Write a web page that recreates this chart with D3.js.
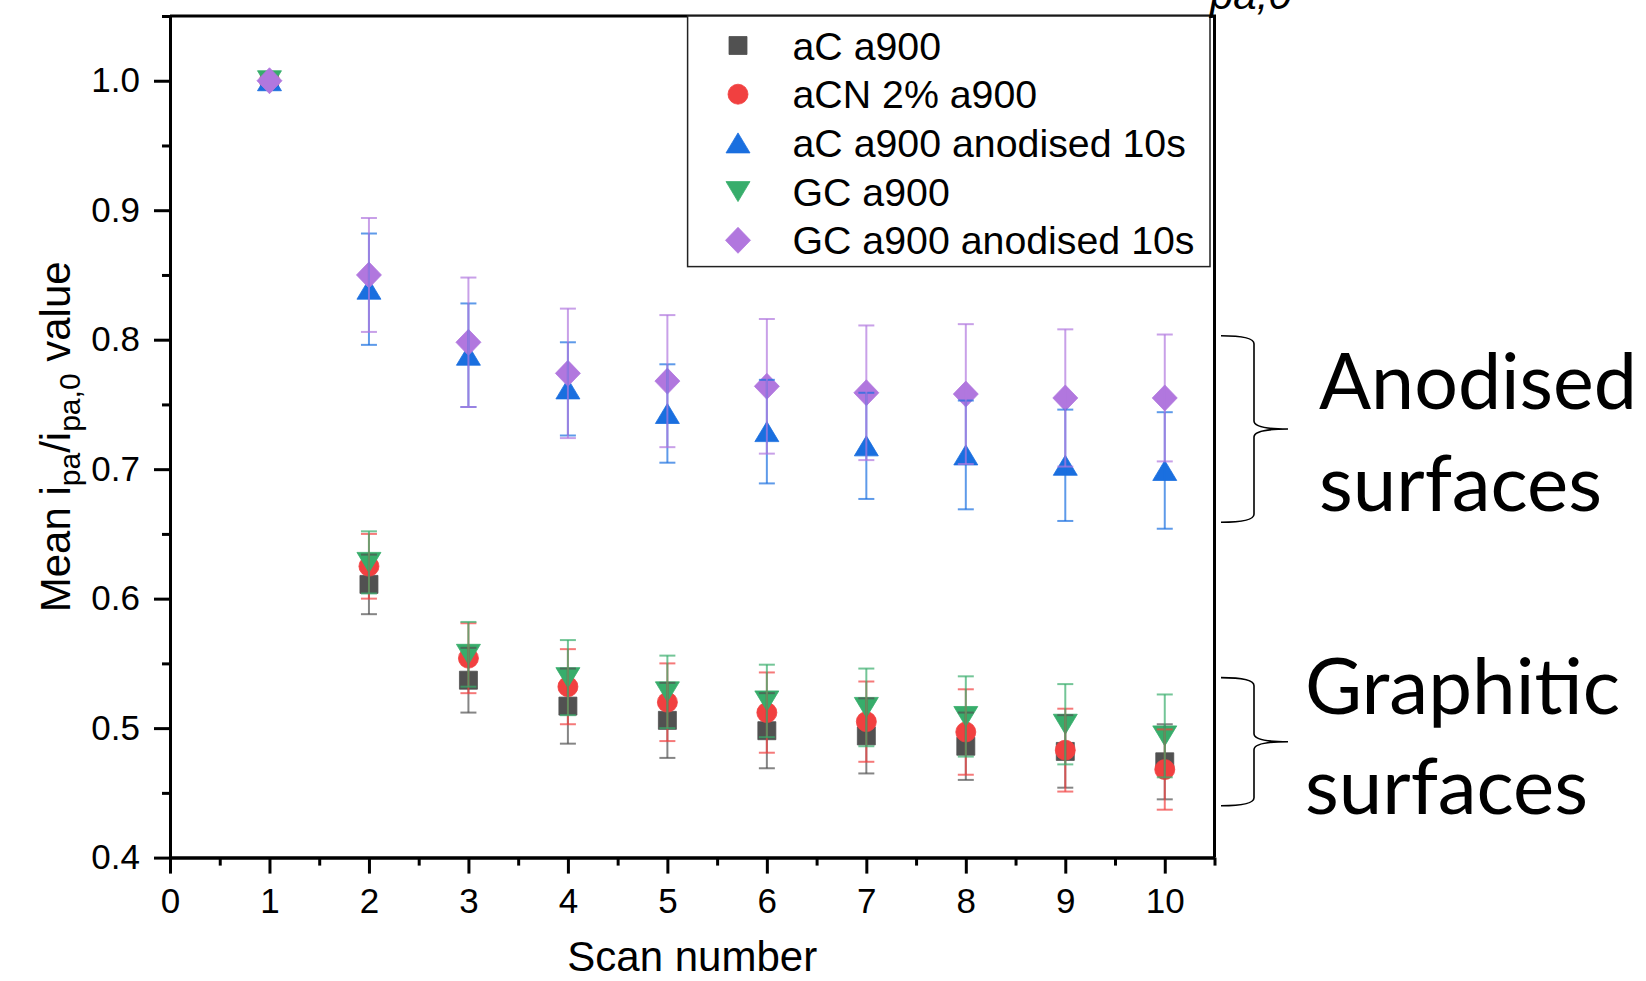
<!DOCTYPE html>
<html>
<head>
    <title>Mean ipa/ipa,0 value vs scan number</title>
    <script src="https://d3js.org/d3.v7.min.js"></script>
    <style>
        body { margin: 0; background: #fff; }
        svg { display: block; }
    </style>
</head>
<body>
    <div id="chart"></div>

    <script>
        // Data
        const scans = [1, 2, 3, 4, 5, 6, 7, 8, 9, 10];
        const seriesNames = ["aC a900", "aCN 2% a900", "aC a900 anodised 10s", "GC a900", "GC a900 anodised 10s"];

        const aCMean = [1.000, 0.611, 0.537, 0.517, 0.506, 0.498, 0.494, 0.486, 0.482, 0.474];
        const aCErr = [0, 0.023, 0.025, 0.029, 0.029, 0.029, 0.029, 0.026, 0.028, 0.029];

        const aCNMean = [1.000, 0.625, 0.554, 0.532, 0.520, 0.512, 0.505, 0.497, 0.483, 0.468];
        const aCNErr = [0, 0.025, 0.027, 0.029, 0.030, 0.031, 0.031, 0.033, 0.032, 0.031];

        const aCAnodMean = [1.000, 0.839, 0.788, 0.762, 0.743, 0.729, 0.718, 0.711, 0.703, 0.699];
        const aCAnodErr = [0, 0.043, 0.040, 0.036, 0.038, 0.040, 0.041, 0.042, 0.043, 0.045];

        const gcMean = [1.000, 0.628, 0.557, 0.539, 0.528, 0.521, 0.516, 0.509, 0.503, 0.494];
        const gcErr = [0, 0.024, 0.025, 0.029, 0.028, 0.028, 0.030, 0.031, 0.031, 0.032];

        const gcAnodMean = [1.000, 0.850, 0.798, 0.774, 0.768, 0.764, 0.759, 0.758, 0.755, 0.755];
        const gcAnodErr = [0, 0.044, 0.050, 0.050, 0.051, 0.052, 0.052, 0.054, 0.053, 0.049];

        const xTicks = [0, 1, 2, 3, 4, 5, 6, 7, 8, 9, 10];
        const yTicks = [0.4, 0.5, 0.6, 0.7, 0.8, 0.9, 1.0];

        // Brace annotations, ranges in data units
        const braceLabels = [["Anodised", "surfaces"], ["Graphitic", "surfaces"]];
        const braceRanges = [[0.659, 0.803], [0.440, 0.539]];

        // Styles
        const colors = ["#515151", "#F14040", "#1A6FDF", "#37AD6B", "#B177DE"];
        const shapes = ["square", "circle", "up", "down", "diamond"];

        const series = seriesNames.map((name, i) => ({
            name: name,
            color: colors[i],
            shape: shapes[i],
            mean: [aCMean, aCNMean, aCAnodMean, gcMean, gcAnodMean][i],
            err: [aCErr, aCNErr, aCAnodErr, gcErr, gcAnodErr][i]
        }));

        const width = 1646;
        const height = 981;
        const margin = { left: 170, right: 431.5, top: 16, bottom: 123.4 };

        const xScale = d3.scaleLinear()
            .domain([0, 10.5])
            .range([margin.left, width - margin.right]);

        const yScale = d3.scaleLinear()
            .domain([0.4, 1.05])
            .range([height - margin.bottom, margin.top]);

        const svg = d3.select("#chart")
            .append("svg")
            .attr("width", width)
            .attr("height", height);

        svg.append("rect")
            .attr("width", width)
            .attr("height", height)
            .attr("fill", "#fff");

        // Marker shapes
        function marker(shape) {
            const p = d3.path();
            if (shape === "square") {
                p.rect(-9, -9, 18, 18);
            } else if (shape === "circle") {
                p.arc(0, 0, 10, 0, 2 * Math.PI);
            } else if (shape === "up") {
                p.moveTo(0, -10); p.lineTo(12, 10); p.lineTo(-12, 10); p.closePath();
            } else if (shape === "down") {
                p.moveTo(0, 10); p.lineTo(12, -10); p.lineTo(-12, -10); p.closePath();
            } else {
                p.moveTo(0, -13); p.lineTo(12.5, 0); p.lineTo(0, 13); p.lineTo(-12.5, 0); p.closePath();
            }
            return p.toString();
        }

        // Markers, one series after the other
        series.forEach(s => {
            svg.append("g")
                .selectAll("path")
                .data(scans)
                .join("path")
                .attr("d", marker(s.shape))
                .attr("transform", (d, i) => `translate(${xScale(d)},${yScale(s.mean[i])})`)
                .attr("fill", s.color)
                .attr("stroke", s.color)
                .attr("stroke-width", 0.8);
        });

        // Error bars on top
        series.forEach(s => {
            const g = svg.append("g")
                .attr("stroke", s.color)
                .attr("stroke-opacity", 0.7)
                .attr("stroke-width", 2);
            const bars = scans.map((d, i) => ({ x: d, m: s.mean[i], e: s.err[i] })).filter(b => b.e > 0);

            g.selectAll("line.v")
                .data(bars)
                .join("line")
                .attr("class", "v")
                .attr("x1", b => xScale(b.x))
                .attr("x2", b => xScale(b.x))
                .attr("y1", b => yScale(b.m + b.e))
                .attr("y2", b => yScale(b.m - b.e));

            [1, -1].forEach(sign => {
                g.selectAll("line.c" + sign)
                    .data(bars)
                    .join("line")
                    .attr("x1", b => xScale(b.x) - 8)
                    .attr("x2", b => xScale(b.x) + 8)
                    .attr("y1", b => yScale(b.m + sign * b.e))
                    .attr("y2", b => yScale(b.m + sign * b.e));
            });
        });

        // Axes
        const font = "'Liberation Sans', Arial, sans-serif";
        const xAxis = d3.axisBottom(xScale)
            .tickValues(xTicks)
            .tickFormat(d3.format("d"))
            .tickSize(16)
            .tickSizeOuter(0)
            .tickPadding(14.5);

        const xMinor = d3.axisBottom(xScale)
            .tickValues(d3.range(0.5, 11, 1))
            .tickFormat("")
            .tickSize(8)
            .tickSizeOuter(0);

        const yAxis = d3.axisLeft(yScale)
            .tickValues(yTicks)
            .tickFormat(d3.format(".1f"))
            .tickSize(16)
            .tickSizeOuter(0)
            .tickPadding(14);

        const yMinor = d3.axisLeft(yScale)
            .tickValues(d3.range(0.45, 1.06, 0.1))
            .tickFormat("")
            .tickSize(8)
            .tickSizeOuter(0);

        const bottomY = yScale(0.4);
        const leftX = xScale(0);

        [xAxis, xMinor].forEach(a => {
            svg.append("g")
                .attr("transform", `translate(0,${bottomY})`)
                .call(a);
        });
        [yAxis, yMinor].forEach(a => {
            svg.append("g")
                .attr("transform", `translate(${leftX},0)`)
                .call(a);
        });

        svg.selectAll(".domain, .tick line")
            .attr("stroke", "#000")
            .attr("stroke-width", 3);
        svg.selectAll(".tick text")
            .attr("font-family", font)
            .attr("font-size", 35)
            .attr("fill", "#000");

        // Top and right frame
        svg.append("path")
            .attr("d", `M${leftX},${yScale(1.05)}H${xScale(10.5)}V${bottomY}`)
            .attr("fill", "none")
            .attr("stroke", "#000")
            .attr("stroke-width", 3);

        // Axis titles
        svg.append("text")
            .attr("x", (xScale(0) + xScale(10.5)) / 2)
            .attr("y", 971)
            .attr("text-anchor", "middle")
            .attr("font-family", font)
            .attr("font-size", 42)
            .text("Scan number");

        const yTitle = svg.append("text")
            .attr("transform", `translate(70,${(yScale(0.4) + yScale(1.05)) / 2}) rotate(-90)`)
            .attr("text-anchor", "middle")
            .attr("font-family", font)
            .attr("font-size", 42);
        yTitle.append("tspan").text("Mean i");
        yTitle.append("tspan").attr("font-size", 30).attr("dy", 10).text("pa");
        yTitle.append("tspan").attr("dy", -10).text("/i");
        yTitle.append("tspan").attr("font-size", 30).attr("dy", 10).text("pa,0");
        yTitle.append("tspan").attr("dy", -10).text(" value");

        // Legend
        const legend = svg.append("g");
        legend.append("rect")
            .attr("x", 687.6)
            .attr("y", margin.top)
            .attr("width", 522.4)
            .attr("height", 250.6)
            .attr("fill", "#fff")
            .attr("stroke", "#222")
            .attr("stroke-width", 1.5);

        const rows = legend.selectAll("g.row")
            .data(series)
            .join("g")
            .attr("class", "row")
            .attr("transform", (d, i) => `translate(0,${45.5 + i * 48.7})`);

        rows.append("path")
            .attr("d", d => marker(d.shape))
            .attr("transform", "translate(738,0)")
            .attr("fill", d => d.color)
            .attr("stroke", d => d.color)
            .attr("stroke-width", 0.8);

        rows.append("text")
            .attr("x", 792.5)
            .attr("y", 14)
            .attr("font-family", font)
            .attr("font-size", 39.3)
            .text(d => d.name);

        // Braces with labels
        const braceLeft = 1221;
        const braceSpine = 1254;
        const braceTip = 1288;
        braceRanges.forEach((r, i) => {
            const top = yScale(r[1]);
            const bottom = yScale(r[0]);
            const mid = (top + bottom) / 2;
            const p = d3.path();
            p.moveTo(braceLeft, top);
            p.quadraticCurveTo(braceSpine, top, braceSpine, top + 8);
            p.lineTo(braceSpine, mid - 8);
            p.quadraticCurveTo(braceSpine, mid, braceTip, mid);
            p.quadraticCurveTo(braceSpine, mid, braceSpine, mid + 8);
            p.lineTo(braceSpine, bottom - 8);
            p.quadraticCurveTo(braceSpine, bottom, braceLeft, bottom);
            svg.append("path")
                .attr("d", p.toString())
                .attr("fill", "none")
                .attr("stroke", "#000")
                .attr("stroke-width", 1.6);
        });

        const labelPos = [[1319, 409, 318], [1319, 511, 283], [1305, 714, 315], [1305, 813.5, 283]];
        braceLabels.flat().forEach((t, i) => {
            svg.append("text")
                .attr("x", labelPos[i][0])
                .attr("y", labelPos[i][1])
                .attr("font-family", "Lato, 'Open Sans', sans-serif")
                .attr("font-size", 77)
                .attr("textLength", labelPos[i][2])
                .attr("lengthAdjust", "spacingAndGlyphs")
                .text(t);
        });

        // Cropped caption fragment at the very top
        svg.append("text")
            .attr("x", 1210)
            .attr("y", 9)
            .attr("font-family", font)
            .attr("font-style", "italic")
            .attr("font-size", 42)
            .text("pa,0");
    </script>
</body>
</html>
